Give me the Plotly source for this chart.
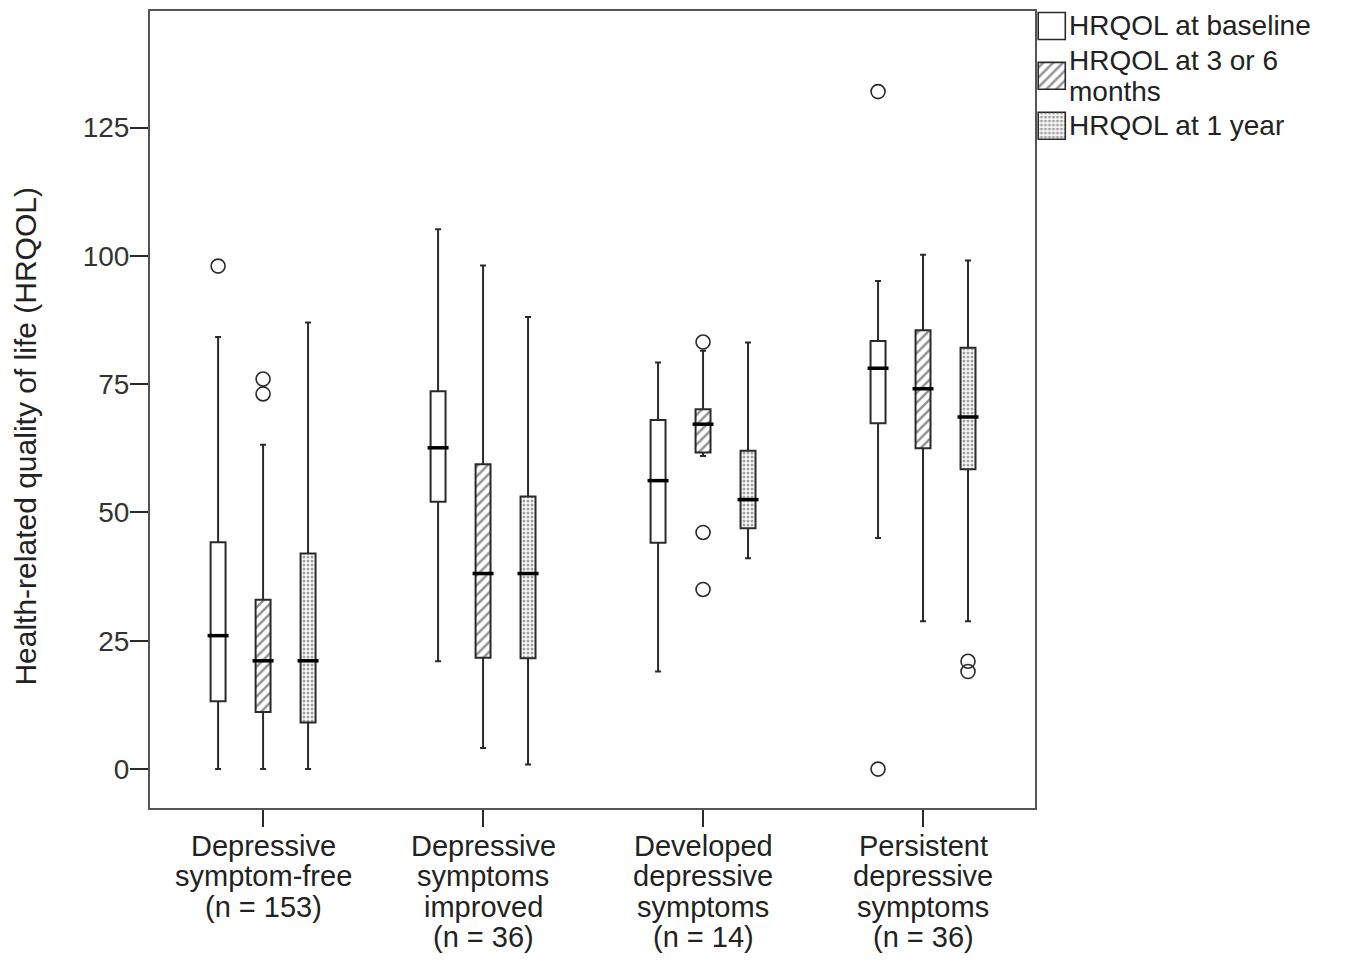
import plotly.graph_objects as go

# ---------------- data ----------------
categories = ["Depressive symptom-free (n = 153)",
              "Depressive symptoms improved (n = 36)",
              "Developed depressive symptoms (n = 14)",
              "Persistent depressive symptoms (n = 36)"]
category_lines = [["Depressive", "symptom-free", "(n = 153)"],
                  ["Depressive", "symptoms", "improved", "(n = 36)"],
                  ["Developed", "depressive", "symptoms", "(n = 14)"],
                  ["Persistent", "depressive", "symptoms", "(n = 36)"]]

series_names = ["HRQOL at baseline", "HRQOL at 3 or 6 months", "HRQOL at 1 year"]
legend_lines = [["HRQOL at baseline"], ["HRQOL at 3 or 6", "months"], ["HRQOL at 1 year"]]

# five-number summaries per series (one value per category)
baseline_low = [0, 21, 19, 45]
baseline_q1 = [13.2, 52.1, 44.1, 67.4]
baseline_med = [26.0, 62.6, 56.2, 78.1]
baseline_q3 = [44.2, 73.6, 68.0, 83.4]
baseline_high = [84.2, 105.2, 79.2, 95.1]
baseline_out = [[98], [], [], [132, 0]]

m36_low = [0, 4.1, 61.0, 28.8]
m36_q1 = [11.1, 21.7, 61.7, 62.5]
m36_med = [21.1, 38.1, 67.2, 74.1]
m36_q3 = [33.0, 59.4, 70.1, 85.5]
m36_high = [63.2, 98.1, 81.5, 100.2]
m36_out = [[76, 73.1], [], [83.2, 46.1, 35.0], []]

y1_low = [0, 0.9, 41.1, 28.8]
y1_q1 = [9.1, 21.6, 46.9, 58.4]
y1_med = [21.1, 38.1, 52.5, 68.6]
y1_q3 = [42.0, 53.1, 62.0, 82.1]
y1_high = [87.0, 88.1, 83.1, 99.1]
y1_out = [[], [], [], [21.0, 19.0]]

y_ticks = [0, 25, 50, 75, 100, 125]

series = [
    dict(low=baseline_low, q1=baseline_q1, med=baseline_med, q3=baseline_q3, high=baseline_high, out=baseline_out),
    dict(low=m36_low, q1=m36_q1, med=m36_med, q3=m36_q3, high=m36_high, out=m36_out),
    dict(low=y1_low, q1=y1_q1, med=y1_med, q3=y1_q3, high=y1_high, out=y1_out),
]

# ---------------- style ----------------
group_pos = [1, 2, 3, 4]
offsets = [-0.2045, 0.0, 0.2045]
box_w = 0.068
patterns = [dict(shape=""),
            dict(shape="/", fgcolor="#222", bgcolor="white", size=7, solidity=0.35),
            dict(shape=".", fgcolor="#444", bgcolor="white", size=4, solidity=0.45)]
line_col = "#2a2a2a"
text_col = "#222222"
FONT = "Liberation Sans, Arial, sans-serif"
FS = 28

fig = go.Figure()

# pattern fills (as bars spanning q1..q3)
for i, s in enumerate(series):
    xs = [g + offsets[i] for g in group_pos]
    fig.add_trace(go.Bar(
        x=xs, base=s["q1"], y=[b - a for a, b in zip(s["q1"], s["q3"])],
        width=box_w, marker=dict(color="white", pattern=patterns[i], line=dict(width=0)),
        showlegend=False, hoverinfo="skip"))

# box outlines and whiskers
for i, s in enumerate(series):
    xs = [g + offsets[i] for g in group_pos]
    fig.add_trace(go.Box(
        x=xs, q1=s["q1"], median=s["med"], q3=s["q3"],
        lowerfence=s["low"], upperfence=s["high"],
        width=box_w, whiskerwidth=0.4, boxpoints=False,
        fillcolor="rgba(0,0,0,0)", line=dict(color=line_col, width=2),
        name=series_names[i], showlegend=False))

# thick medians
for i, s in enumerate(series):
    xs = [g + offsets[i] for g in group_pos]
    fig.add_trace(go.Scatter(
        x=xs, y=s["med"], mode="markers",
        marker=dict(symbol="line-ew", size=15, line=dict(color="black", width=3.5)),
        showlegend=False, hoverinfo="skip"))

# outliers
for i, s in enumerate(series):
    ox, oy = [], []
    for g, vals in zip(group_pos, s["out"]):
        for v in vals:
            ox.append(g + offsets[i])
            oy.append(v)
    if ox:
        fig.add_trace(go.Scatter(
            x=ox, y=oy, mode="markers",
            marker=dict(symbol="circle-open", size=14, color=line_col, line=dict(width=1.6)),
            showlegend=False))

# manual legend swatches on auxiliary axes
for i, name in enumerate(series_names):
    fig.add_trace(go.Bar(
        x=[1], y=[i], base=0, orientation="h", width=0.54,
        marker=dict(color="white", pattern=patterns[i], line=dict(color=line_col, width=1.6)),
        xaxis="x2", yaxis="y2", showlegend=False, hoverinfo="skip"))

annotations = []
for i, lines in enumerate(legend_lines):
    n = len(lines)
    for k, t in enumerate(lines):
        annotations.append(dict(
            x=1.1, y=i, xref="x2", yref="y2", xanchor="left", yanchor="middle",
            yshift=-(k - (n - 1) / 2) * 31, text=t, showarrow=False, borderpad=0,
            font=dict(family=FONT, size=28, color=text_col)))

for g, lines in zip(group_pos, category_lines):
    for k, t in enumerate(lines):
        annotations.append(dict(
            x=g, y=0, xref="x", yref="paper", xanchor="center", yanchor="middle",
            yshift=-(38 + 30.3 * k), text=t, showarrow=False, borderpad=0,
            font=dict(family=FONT, size=29, color=text_col)))

annotations.append(dict(
    x=0, y=0.466, xref="paper", yref="paper", xshift=-124, textangle=-90,
    xanchor="center", yanchor="middle", text="Health-related quality of life (HRQOL)",
    showarrow=False, font=dict(family=FONT, size=30, color=text_col)))

# page body has an 8px margin; figure sized so the plot area lands where the reference has it
FIG_W, FIG_H = 1345, 952
ML, MR, MT, MB = 142, 5, 1, 152
W_AREA = FIG_W - ML - MR
H_AREA = FIG_H - MT - MB
fig.update_layout(
    width=FIG_W, height=FIG_H,
    margin=dict(l=ML, r=MR, t=MT, b=MB),
    paper_bgcolor="white", plot_bgcolor="white",
    barmode="overlay", boxmode="overlay",
    showlegend=False,
    font=dict(family=FONT, size=FS, color=text_col),
    xaxis=dict(domain=[0, 885 / W_AREA], range=[0.486, 4.509],
               tickvals=group_pos, showticklabels=False, ticks="outside", ticklen=17,
               tickwidth=1.8, tickcolor=line_col,
               showline=True, mirror=True, linecolor="#555", linewidth=2,
               showgrid=False, zeroline=False, fixedrange=True),
    yaxis=dict(range=[-7.58, 147.7], tickvals=y_ticks, ticks="outside", ticklen=18,
               tickwidth=1.8, tickcolor=line_col, ticklabelstandoff=-5,
               tickfont=dict(family=FONT, size=FS, color="#333"),
               showline=True, mirror=True, linecolor="#555", linewidth=2,
               showgrid=False, zeroline=False, fixedrange=True),
    xaxis2=dict(domain=[885.5 / W_AREA, 918 / W_AREA], range=[-0.1, 1.1],
                visible=False, anchor="y2", fixedrange=True),
    yaxis2=dict(domain=[1 - 150 / H_AREA, 1.0], range=[2.7, -0.3],
                visible=False, anchor="x2", fixedrange=True),
    annotations=annotations,
)

fig.write_html("out.html")
